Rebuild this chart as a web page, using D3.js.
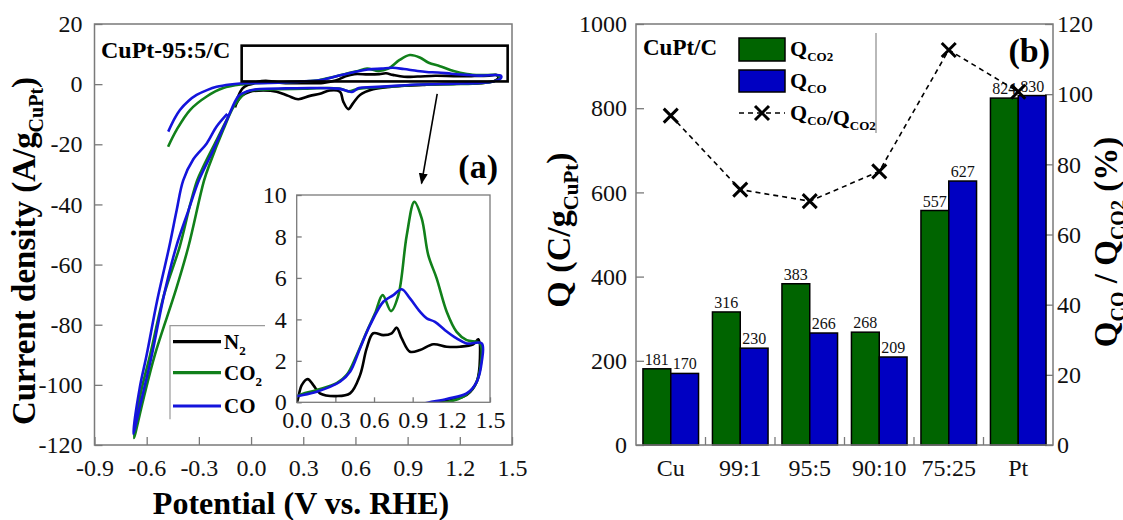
<!DOCTYPE html>
<meta charset="utf-8">
<title>CuPt CV and charge</title>
<style>
  body { margin: 0; background: #fff; }
  svg text { font-family: "Liberation Serif", "DejaVu Serif", serif !important; }
</style>
<body>
<script src="https://cdn.jsdelivr.net/npm/d3@7"></script>
<script>
// ---------------- data -----------------------------------------
var voltTicks = [-0.9, -0.6, -0.3, 0.0, 0.3, 0.6, 0.9, 1.2, 1.5];
var currentTicks = [-120, -100, -80, -60, -40, -20, 0, 20];
var insetVoltTicks = [0.0, 0.3, 0.6, 0.9, 1.2, 1.5];
var insetCurrentTicks = [0, 2, 4, 6, 8, 10];

// CV scans, [potential V, current A/g]
var n2Scan = [[-0.09,-7.2],[-0.075,-4.2],[-0.05,-1.5],[-0.02,-0.3],[0.005,0.06],[0.039,0.83],[0.085,1.12],[0.129,0.83],[0.18,0.43],[0.31,0.3],[0.414,0.43],[0.491,1.3],[0.543,2.6],[0.594,3.33],[0.672,3.24],[0.737,3.33],[0.776,3.6],[0.815,3.08],[0.879,2.44],[0.957,2.52],[1.06,2.8],[1.164,2.68],[1.267,2.68],[1.37,2.8],[1.41,3.04],
  [1.422,2.12],[1.397,0.99],[1.319,0.35],[1.164,0.06],[1.034,-0.1],
  [0.987,-0.3],[0.798,-0.9],[0.702,-1.7],[0.626,-3.6],[0.587,-6.3],[0.559,-8.3],[0.53,-5.8],[0.511,-2.5],[0.453,-2.1],[0.396,-3.2],[0.338,-3.9],[0.271,-5.0],[0.214,-3.9],[0.147,-2.5],[0.07,-2.1],[-0.006,-2.5],[-0.054,-3.9],[-0.083,-6.3],[-0.092,-7.7]];

var co2Scan = [[-0.477,-20.8],[-0.428,-15.2],[-0.351,-8.6],[-0.255,-4.1],[-0.16,-1.3],[-0.045,0],[0.005,0.3],
  [0.155,0.59],[0.31,0.92],[0.388,1.32],[0.466,2.28],[0.543,3.4],[0.608,4.29],[0.667,5.17],[0.732,4.4],[0.789,5.17],[0.854,8.06],[0.913,9.67],[0.97,8.87],[1.021,7.1],[1.086,5.98],[1.164,4.37],[1.241,3.4],[1.319,3.0],[1.422,2.84],
  [1.428,1.8],[1.384,0.83],[1.293,0.27],[1.164,0.0],[0.982,-0.13],
  [0.85,-0.6],[0.72,-1.1],[0.62,-1.5],[0.56,-2.4],[0.52,-1.6],[0.45,-1.3],[0.3,-1.5],[0.15,-1.7],[0.03,-1.9],[-0.02,-2.4],
  [-0.045,-3.5],[-0.1,-7.5],[-0.16,-15.2],[-0.236,-26.3],[-0.27,-32],[-0.36,-54],[-0.43,-68],[-0.553,-90],[-0.62,-105],[-0.673,-117.7],
  [-0.635,-103],[-0.58,-90],[-0.5,-70],[-0.41,-54],[-0.35,-40],[-0.31,-32],[-0.275,-27.5],[-0.198,-18.6],[-0.112,-8.6]];

var coScan = [[-0.476,-15.8],[-0.44,-11.5],[-0.409,-8.6],[-0.36,-5.6],[-0.313,-3.6],[-0.25,-1.9],[-0.198,-0.9],[-0.12,-0.1],[-0.064,0.2],[0.005,0.3],
  [0.155,0.51],[0.336,0.99],[0.414,1.47],[0.491,2.6],[0.569,3.72],[0.672,4.85],[0.75,5.17],[0.815,5.45],[0.879,5.01],[0.957,4.37],[1.009,4.05],[1.073,3.88],[1.151,3.48],[1.241,3.08],[1.319,2.84],[1.436,2.84],
  [1.436,1.96],[1.397,0.99],[1.319,0.43],[1.164,0.16],[0.957,-0.12],
  [0.85,-0.5],[0.7,-1.0],[0.62,-1.3],[0.58,-2.6],[0.55,-2.2],[0.5,-1.5],[0.35,-1.3],[0.2,-1.4],[0.05,-1.6],[0.0,-2.0],[-0.04,-2.8],
  [-0.073,-4],[-0.14,-12],[-0.226,-23],[-0.3,-32],[-0.36,-42],[-0.43,-54],[-0.5,-70],[-0.57,-90],[-0.63,-105],[-0.677,-116.3],
  [-0.64,-101],[-0.6,-90],[-0.54,-72],[-0.47,-54],[-0.428,-42],[-0.39,-32],[-0.332,-25],[-0.255,-19.7],[-0.198,-14.1],[-0.137,-9.9]];

var scanNames = ['N2', 'CO2', 'CO'];
var zoomBox = [[-0.054, 12.8], [1.475, 0.9]];      // boxed region in data units
var arrowPts = [[1.07, -3.2], [0.98, -33]];

var categories = ['Cu', '99:1', '95:5', '90:10', '75:25', 'Pt'];
var qCO2 = [181, 316, 383, 268, 557, 824];
var qCO = [170, 230, 266, 209, 627, 830];
var ratio = [93.9, 72.8, 69.5, 78.0, 112.6, 100.7];   // Q_CO/Q_CO2 (%)
var qTicks = [0, 200, 400, 600, 800, 1000];
var ratioTicks = [0, 20, 40, 60, 80, 100, 120];

// ---------------- setup ----------------------------------------
var width = 1123, height = 520;
var serif = '"Liberation Serif", "DejaVu Serif", serif';
var gray = '#7a7a7a';
var lineColor = {N2: '#000000', CO2: '#11801a', CO: '#1414dc'};
var barGreen = '#006400', barBlue = '#0000c2';

var svg = d3.select('body').append('svg')
    .attr('width', width)
    .attr('height', height)
    .attr('font-family', serif);

var defs = svg.append('defs');
defs.append('marker')
    .attr('id', 'arrowhead')
    .attr('viewBox', '0 0 10 10')
    .attr('refX', 9).attr('refY', 5)
    .attr('markerWidth', 7).attr('markerHeight', 7)
    .attr('orient', 'auto')
  .append('path')
    .attr('d', 'M0,1 L10,5 L0,9 Z')
    .style('fill', '#000');

function styleAxis(g) {
  g.attr('font-family', serif);
  g.select('.domain').remove();
  g.selectAll('.tick line').style('stroke', gray).style('stroke-width', 1.3);
  g.selectAll('.tick text')
      .attr('font-family', serif)
      .style('font-size', '24px')
      .style('fill', '#111')
      .text(function () { return this.textContent.replace('\u2212', '-'); });
}

// ================= panel (a) ===================================
var ax = {left: 94.5, right: 512, top: 24, bottom: 445};
var x = d3.scaleLinear().domain([-0.9, 1.5]).range([ax.left, ax.right]);
var y = d3.scaleLinear().domain([-120, 20]).range([ax.bottom, ax.top]);

defs.append('clipPath').attr('id', 'clipA')
  .append('rect')
    .attr('x', ax.left).attr('y', ax.top)
    .attr('width', ax.right - ax.left).attr('height', ax.bottom - ax.top);

var gA = svg.append('g');

gA.append('g')
    .attr('transform', 'translate(0,' + ax.bottom + ')')
    .call(d3.axisBottom(x).tickValues(voltTicks).tickFormat(d3.format('.1f'))
      .tickSizeInner(-8).tickSizeOuter(0).tickPadding(14))
    .call(styleAxis);

gA.append('g')
    .attr('transform', 'translate(' + ax.left + ',0)')
    .call(d3.axisLeft(y).tickValues(currentTicks).tickFormat(d3.format('d'))
      .tickSizeInner(-8).tickSizeOuter(0).tickPadding(12))
    .call(styleAxis);

gA.append('rect')
    .attr('x', ax.left).attr('y', ax.top)
    .attr('width', ax.right - ax.left).attr('height', ax.bottom - ax.top)
    .style('fill', 'none').style('stroke', gray).style('stroke-width', 1.5);

var cvLine = d3.line()
    .curve(d3.curveCatmullRom.alpha(0.5))
    .x(function (d) { return x(d[0]); })
    .y(function (d) { return y(d[1]); });

var scans = [n2Scan, co2Scan, coScan];
var gCurves = gA.append('g').attr('clip-path', 'url(#clipA)');
scans.forEach(function (s, i) {
  gCurves.append('path')
      .datum(s)
      .attr('d', cvLine)
      .style('fill', 'none')
      .style('stroke', lineColor[scanNames[i]])
      .style('stroke-width', 2.6)
      .style('stroke-linejoin', 'round');
});

// zoom box and arrow
gA.append('rect')
    .attr('x', x(zoomBox[0][0])).attr('y', y(zoomBox[0][1]))
    .attr('width', x(zoomBox[1][0]) - x(zoomBox[0][0]))
    .attr('height', y(zoomBox[1][1]) - y(zoomBox[0][1]))
    .style('fill', 'none').style('stroke', '#000').style('stroke-width', 2.6);

gA.append('line')
    .attr('x1', x(arrowPts[0][0])).attr('y1', y(arrowPts[0][1]))
    .attr('x2', x(arrowPts[1][0])).attr('y2', y(arrowPts[1][1]))
    .style('stroke', '#000').style('stroke-width', 1.6)
    .attr('marker-end', 'url(#arrowhead)');

gA.append('text')
    .attr('x', 101).attr('y', 58)
    .style('font-weight', 'bold').style('font-size', '24px')
    .text('CuPt-95:5/C');

gA.append('text')
    .attr('x', 498).attr('y', 178)
    .attr('text-anchor', 'end')
    .style('font-weight', 'bold').style('font-size', '34px')
    .text('(a)');

// legend (a)
var legA = gA.append('g');
legA.append('path')
    .attr('d', 'M265,325.7 H170 V419.3')
    .style('fill', 'none').style('stroke', '#9a9a9a').style('stroke-width', 1.2);
var legRows = [341.7, 372.7, 406];
var legLabels = [['N', '2'], ['CO', '2'], ['CO', '']];
scanNames.forEach(function (n, i) {
  legA.append('line')
      .attr('x1', 173).attr('x2', 221)
      .attr('y1', legRows[i]).attr('y2', legRows[i])
      .style('stroke', lineColor[n]).style('stroke-width', 3.2);
  var t = legA.append('text')
      .attr('x', 224).attr('y', legRows[i] + 7)
      .style('font-weight', 'bold').style('font-size', '21px');
  t.append('tspan').text(legLabels[i][0]);
  if (legLabels[i][1]) {
    t.append('tspan').attr('dy', 6).style('font-size', '13px').text(legLabels[i][1]);
  }
});

// inset
var ins = {left: 296.7, right: 490, top: 195, bottom: 402.3};
var xi = d3.scaleLinear().domain([0, 1.5]).range([ins.left, ins.right]);
var yi = d3.scaleLinear().domain([0, 10]).range([ins.bottom, ins.top]);

defs.append('clipPath').attr('id', 'clipInset')
  .append('rect')
    .attr('x', ins.left).attr('y', ins.top)
    .attr('width', ins.right - ins.left).attr('height', ins.bottom - ins.top);

var gI = svg.append('g');
gI.append('rect')
    .attr('x', ins.left).attr('y', ins.top)
    .attr('width', ins.right - ins.left).attr('height', ins.bottom - ins.top)
    .style('fill', '#fff');

gI.append('g')
    .attr('transform', 'translate(0,' + ins.bottom + ')')
    .call(d3.axisBottom(xi).tickValues(insetVoltTicks).tickFormat(d3.format('.1f'))
      .tickSizeInner(-5).tickSizeOuter(0).tickPadding(9))
    .call(styleAxis);
gI.append('g')
    .attr('transform', 'translate(' + ins.left + ',0)')
    .call(d3.axisLeft(yi).tickValues(insetCurrentTicks).tickFormat(d3.format('d'))
      .tickSizeInner(-5).tickSizeOuter(0).tickPadding(10))
    .call(styleAxis);

var insetLine = d3.line()
    .curve(d3.curveCatmullRom.alpha(0.5))
    .x(function (d) { return xi(d[0]); })
    .y(function (d) { return yi(d[1]); });

var gInsetCurves = gI.append('g').attr('clip-path', 'url(#clipInset)');
scans.forEach(function (s, i) {
  gInsetCurves.append('path')
      .datum(s)
      .attr('d', insetLine)
      .style('fill', 'none')
      .style('stroke', lineColor[scanNames[i]])
      .style('stroke-width', 2.6)
      .style('stroke-linejoin', 'round');
});

gI.append('rect')
    .attr('x', ins.left).attr('y', ins.top)
    .attr('width', ins.right - ins.left).attr('height', ins.bottom - ins.top)
    .style('fill', 'none').style('stroke', gray).style('stroke-width', 1.3);

// axis titles (a)
svg.append('text')
    .attr('x', 301).attr('y', 514)
    .attr('text-anchor', 'middle')
    .style('font-weight', 'bold').style('font-size', '32px')
    .text('Potential (V vs. RHE)');

var yTitleA = svg.append('text')
    .attr('transform', 'translate(35,251) rotate(-90)')
    .attr('text-anchor', 'middle')
    .style('font-weight', 'bold').style('font-size', '33px');
yTitleA.append('tspan').text('Current density (A/g');
yTitleA.append('tspan').attr('dy', 8).style('font-size', '20px').text('CuPt');
yTitleA.append('tspan').attr('dy', -8).text(')');

// ================= panel (b) ===================================
var bx = {left: 636, right: 1053, top: 24, bottom: 445};

var xb = d3.scaleBand().domain(categories)
    .range([bx.left, bx.right]).paddingInner(0.2).paddingOuter(0.1);
var xSub = d3.scaleBand().domain(['CO2', 'CO']).range([0, xb.bandwidth()]);
var yb = d3.scaleLinear().domain([0, 1000]).range([bx.bottom, bx.top]);
var yr = d3.scaleLinear().domain([0, 120]).range([bx.bottom, bx.top]);

var gB = svg.append('g');

gB.append('g')
    .attr('transform', 'translate(' + bx.left + ',0)')
    .call(d3.axisLeft(yb).tickValues(qTicks).tickFormat(d3.format('d'))
      .tickSizeInner(-8).tickSizeOuter(0).tickPadding(9))
    .call(styleAxis);

gB.append('g')
    .attr('transform', 'translate(' + bx.right + ',0)')
    .call(d3.axisRight(yr).tickValues(ratioTicks).tickFormat(d3.format('d'))
      .tickSizeInner(-8).tickSizeOuter(0).tickPadding(4))
    .call(styleAxis);

// category separators and labels
var sepOffset = (xb.step() - xb.bandwidth()) / 2;
gB.selectAll('.sep')
    .data(categories.slice(1))
  .enter().append('line')
    .attr('x1', function (d) { return xb(d) - sepOffset; })
    .attr('x2', function (d) { return xb(d) - sepOffset; })
    .attr('y1', bx.bottom).attr('y2', bx.bottom - 8)
    .style('stroke', gray).style('stroke-width', 1.3);

gB.selectAll('.cat')
    .data(categories)
  .enter().append('text')
    .attr('x', function (d) { return xb(d) + xb.bandwidth() / 2; })
    .attr('y', 476)
    .attr('text-anchor', 'middle')
    .style('font-size', '24px').style('fill', '#111')
    .text(function (d) { return d; });

// bars
var barRows = categories.map(function (c, i) {
  return [{cat: c, key: 'CO2', v: qCO2[i]}, {cat: c, key: 'CO', v: qCO[i]}];
});
var barData = [].concat.apply([], barRows);

gB.selectAll('.bar')
    .data(barData)
  .enter().append('rect')
    .attr('x', function (d) { return xb(d.cat) + xSub(d.key); })
    .attr('y', function (d) { return yb(d.v); })
    .attr('width', xSub.bandwidth())
    .attr('height', function (d) { return yb(0) - yb(d.v); })
    .style('fill', function (d) { return d.key === 'CO2' ? barGreen : barBlue; })
    .style('stroke', '#000').style('stroke-width', 1.5);

gB.selectAll('.barlabel')
    .data(barData)
  .enter().append('text')
    .attr('x', function (d) { return xb(d.cat) + xSub(d.key) + xSub.bandwidth() / 2; })
    .attr('y', function (d) { return yb(d.v) - 4; })
    .attr('text-anchor', 'middle')
    .style('font-size', '16px').style('fill', '#111')
    .text(function (d) { return d.v; });

// ratio line
var ratioPts = categories.map(function (c, i) {
  return [xb(c) + xb.bandwidth() / 2, yr(ratio[i])];
});
gB.append('path')
    .datum(ratioPts)
    .attr('d', d3.line())
    .style('fill', 'none').style('stroke', '#000')
    .style('stroke-width', 1.6).style('stroke-dasharray', '5,4');

function cross(g, cx, cy) {
  var s = 7;
  g.append('path')
      .attr('d', 'M' + (cx - s) + ',' + (cy - s) + 'L' + (cx + s) + ',' + (cy + s) +
                 'M' + (cx - s) + ',' + (cy + s) + 'L' + (cx + s) + ',' + (cy - s))
      .style('stroke', '#000').style('stroke-width', 3);
}
ratioPts.forEach(function (p) { cross(gB, p[0], p[1]); });

// frame
gB.append('rect')
    .attr('x', bx.left).attr('y', bx.top)
    .attr('width', bx.right - bx.left).attr('height', bx.bottom - bx.top)
    .style('fill', 'none').style('stroke', gray).style('stroke-width', 1.5);

// legend (b)
gB.append('text')
    .attr('x', 643).attr('y', 55)
    .style('font-weight', 'bold').style('font-size', '23px')
    .text('CuPt/C');

gB.append('line')
    .attr('x1', 876).attr('x2', 876).attr('y1', 33).attr('y2', 133)
    .style('stroke', '#8a8a8a').style('stroke-width', 1.2);

gB.append('rect')
    .attr('x', 739).attr('y', 38).attr('width', 46).attr('height', 23)
    .style('fill', barGreen).style('stroke', '#000').style('stroke-width', 1.5);
gB.append('rect')
    .attr('x', 739).attr('y', 70).attr('width', 46).attr('height', 22)
    .style('fill', barBlue).style('stroke', '#000').style('stroke-width', 1.5);
gB.append('line')
    .attr('x1', 739).attr('x2', 785).attr('y1', 113).attr('y2', 113)
    .style('stroke', '#000').style('stroke-width', 1.6).style('stroke-dasharray', '5,4');
cross(gB, 762, 113);

function qLabel(g, xx, yy, parts) {
  var t = g.append('text').attr('x', xx).attr('y', yy)
      .style('font-size', '22px').style('font-weight', 'bold');
  parts.forEach(function (p) {
    if (p.sub) {
      t.append('tspan').attr('dy', 5).style('font-size', '13px').text(p.t);
      t.append('tspan').attr('dy', -5).text('');
    } else {
      t.append('tspan').text(p.t);
    }
  });
  return t;
}
qLabel(gB, 790, 56, [{t: 'Q'}, {t: 'CO2', sub: true}]);
qLabel(gB, 790, 88, [{t: 'Q'}, {t: 'CO', sub: true}]);
qLabel(gB, 790, 120, [{t: 'Q'}, {t: 'CO', sub: true}, {t: '/Q'}, {t: 'CO2', sub: true}]);

gB.append('text')
    .attr('x', 1050).attr('y', 62)
    .attr('text-anchor', 'end')
    .style('font-weight', 'bold').style('font-size', '34px')
    .text('(b)');

// axis titles (b)
var yTitleB = svg.append('text')
    .attr('transform', 'translate(570,230) rotate(-90)')
    .attr('text-anchor', 'middle')
    .style('font-weight', 'bold').style('font-size', '34px');
yTitleB.append('tspan').text('Q (C/g');
yTitleB.append('tspan').attr('dy', 8).style('font-size', '21px').text('CuPt');
yTitleB.append('tspan').attr('dy', -8).text(')');

var yTitleR = svg.append('text')
    .attr('transform', 'translate(1117,242) rotate(-90)')
    .attr('text-anchor', 'middle')
    .style('font-weight', 'bold').style('font-size', '33px');
yTitleR.append('tspan').text('Q');
yTitleR.append('tspan').attr('dy', 8).style('font-size', '20px').text('CO');
yTitleR.append('tspan').attr('dy', -8).text(' / Q');
yTitleR.append('tspan').attr('dy', 8).style('font-size', '20px').text('CO2');
yTitleR.append('tspan').attr('dy', -8).text(' (%)');
</script>
</body>
